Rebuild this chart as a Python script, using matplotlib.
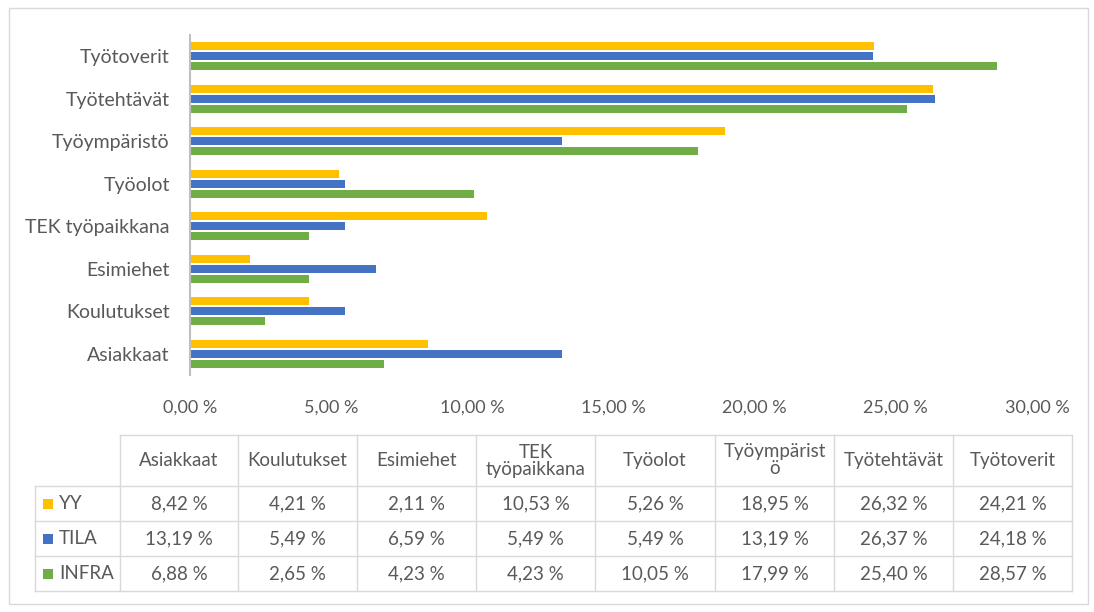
import matplotlib
matplotlib.use("Agg")
import matplotlib.pyplot as plt
from matplotlib.ticker import FuncFormatter
import numpy as np

# values in percent, order = bottom to top in the bar chart / left to right in the table
categories = ["Asiakkaat", "Koulutukset", "Esimiehet", "TEK työpaikkana",
              "Työolot", "Työympäristö", "Työtehtävät", "Työtoverit"]
table_headers = ["Asiakkaat", "Koulutukset", "Esimiehet", "TEK\ntyöpaikkana",
                 "Työolot", "Työympärist\nö", "Työtehtävät", "Työtoverit"]
yy = [8.42, 4.21, 2.11, 10.53, 5.26, 18.95, 26.32, 24.21]
tila = [13.19, 5.49, 6.59, 5.49, 5.49, 13.19, 26.37, 24.18]
infra = [6.88, 2.65, 4.23, 4.23, 10.05, 17.99, 25.40, 28.57]
series_names = ["YY", "TILA", "INFRA"]
x_ticks = [0, 5, 10, 15, 20, 25, 30]

colors = ["#FFC000", "#4472C4", "#70AD47"]
text_col = "#595959"
grid_col = "#D9D9D9"

plt.rcParams['font.family'] = ['Lato', 'DejaVu Sans']

W, H = 1094, 612
fig = plt.figure(figsize=(W / 100, H / 100), dpi=100)

# background axes in pixel coordinates for the border and the data table
bg = fig.add_axes([0, 0, 1, 1])
bg.set_xlim(0, W)
bg.set_ylim(H, 0)
bg.axis("off")
bg.add_patch(plt.Rectangle((9, 8), 1079, 596, fill=False, ec=grid_col, lw=1))

# bar chart
x0, x1, y0, y1 = 190, 1037, 35, 375
ax = fig.add_axes([x0 / W, 1 - y1 / H, (x1 - x0) / W, (y1 - y0) / H])
y = np.arange(len(categories))
pitch = 0.235
h = 0.185
for k, (vals, c) in enumerate(zip([yy, tila, infra], colors)):
    ax.barh(y + (1 - k) * pitch, vals, height=h, color=c, lw=0)
ax.set_ylim(-0.5, len(categories) - 0.5)
ax.set_xlim(0, 30)
ax.set_yticks(y)
ax.set_yticklabels(categories, fontsize=14, color=text_col)
ax.set_xticks(x_ticks)
ax.xaxis.set_major_formatter(FuncFormatter(lambda v, p: f"{v:.2f} %".replace(".", ",")))
ax.tick_params(axis="x", length=0, pad=18, labelsize=13, labelcolor=text_col)
ax.tick_params(axis="y", length=0, pad=14.5)
for s in ["top", "right", "bottom"]:
    ax.spines[s].set_visible(False)
ax.spines["left"].set_color("#BFBFBF")
ax.spines["left"].set_linewidth(1.5)

# data table
col_x = [35, 120, 238, 357, 476, 595, 715, 834, 953, 1072]
row_y = [435, 486, 521, 556, 591]
for i, xx in enumerate(col_x):
    top = row_y[1] if i == 0 else row_y[0]
    bg.plot([xx, xx], [top, row_y[-1]], color=grid_col, lw=1)
for i, yy_ in enumerate(row_y):
    left = col_x[1] if i == 0 else col_x[0]
    bg.plot([left, col_x[-1]], [yy_, yy_], color=grid_col, lw=1)

for j, hd in enumerate(table_headers):
    cx = (col_x[j + 1] + col_x[j + 2]) / 2
    bg.text(cx, (row_y[0] + row_y[1]) / 2, hd, ha="center", va="center",
            fontsize=13.5, color=text_col, linespacing=1.0)

for i, (name, vals, c) in enumerate(zip(series_names, [yy, tila, infra], colors)):
    cy = (row_y[i + 1] + row_y[i + 2]) / 2
    bg.add_patch(plt.Rectangle((43, cy - 5), 10, 10, color=c, lw=0))
    bg.text(59, cy, name, ha="left", va="center", fontsize=13.5, color=text_col)
    for j, v in enumerate(vals):
        cx = (col_x[j + 1] + col_x[j + 2]) / 2
        bg.text(cx, cy, f"{v:.2f} %".replace(".", ","), ha="center", va="center",
                fontsize=13.5, color=text_col)

fig.savefig("out.png", dpi=100, facecolor="white")
